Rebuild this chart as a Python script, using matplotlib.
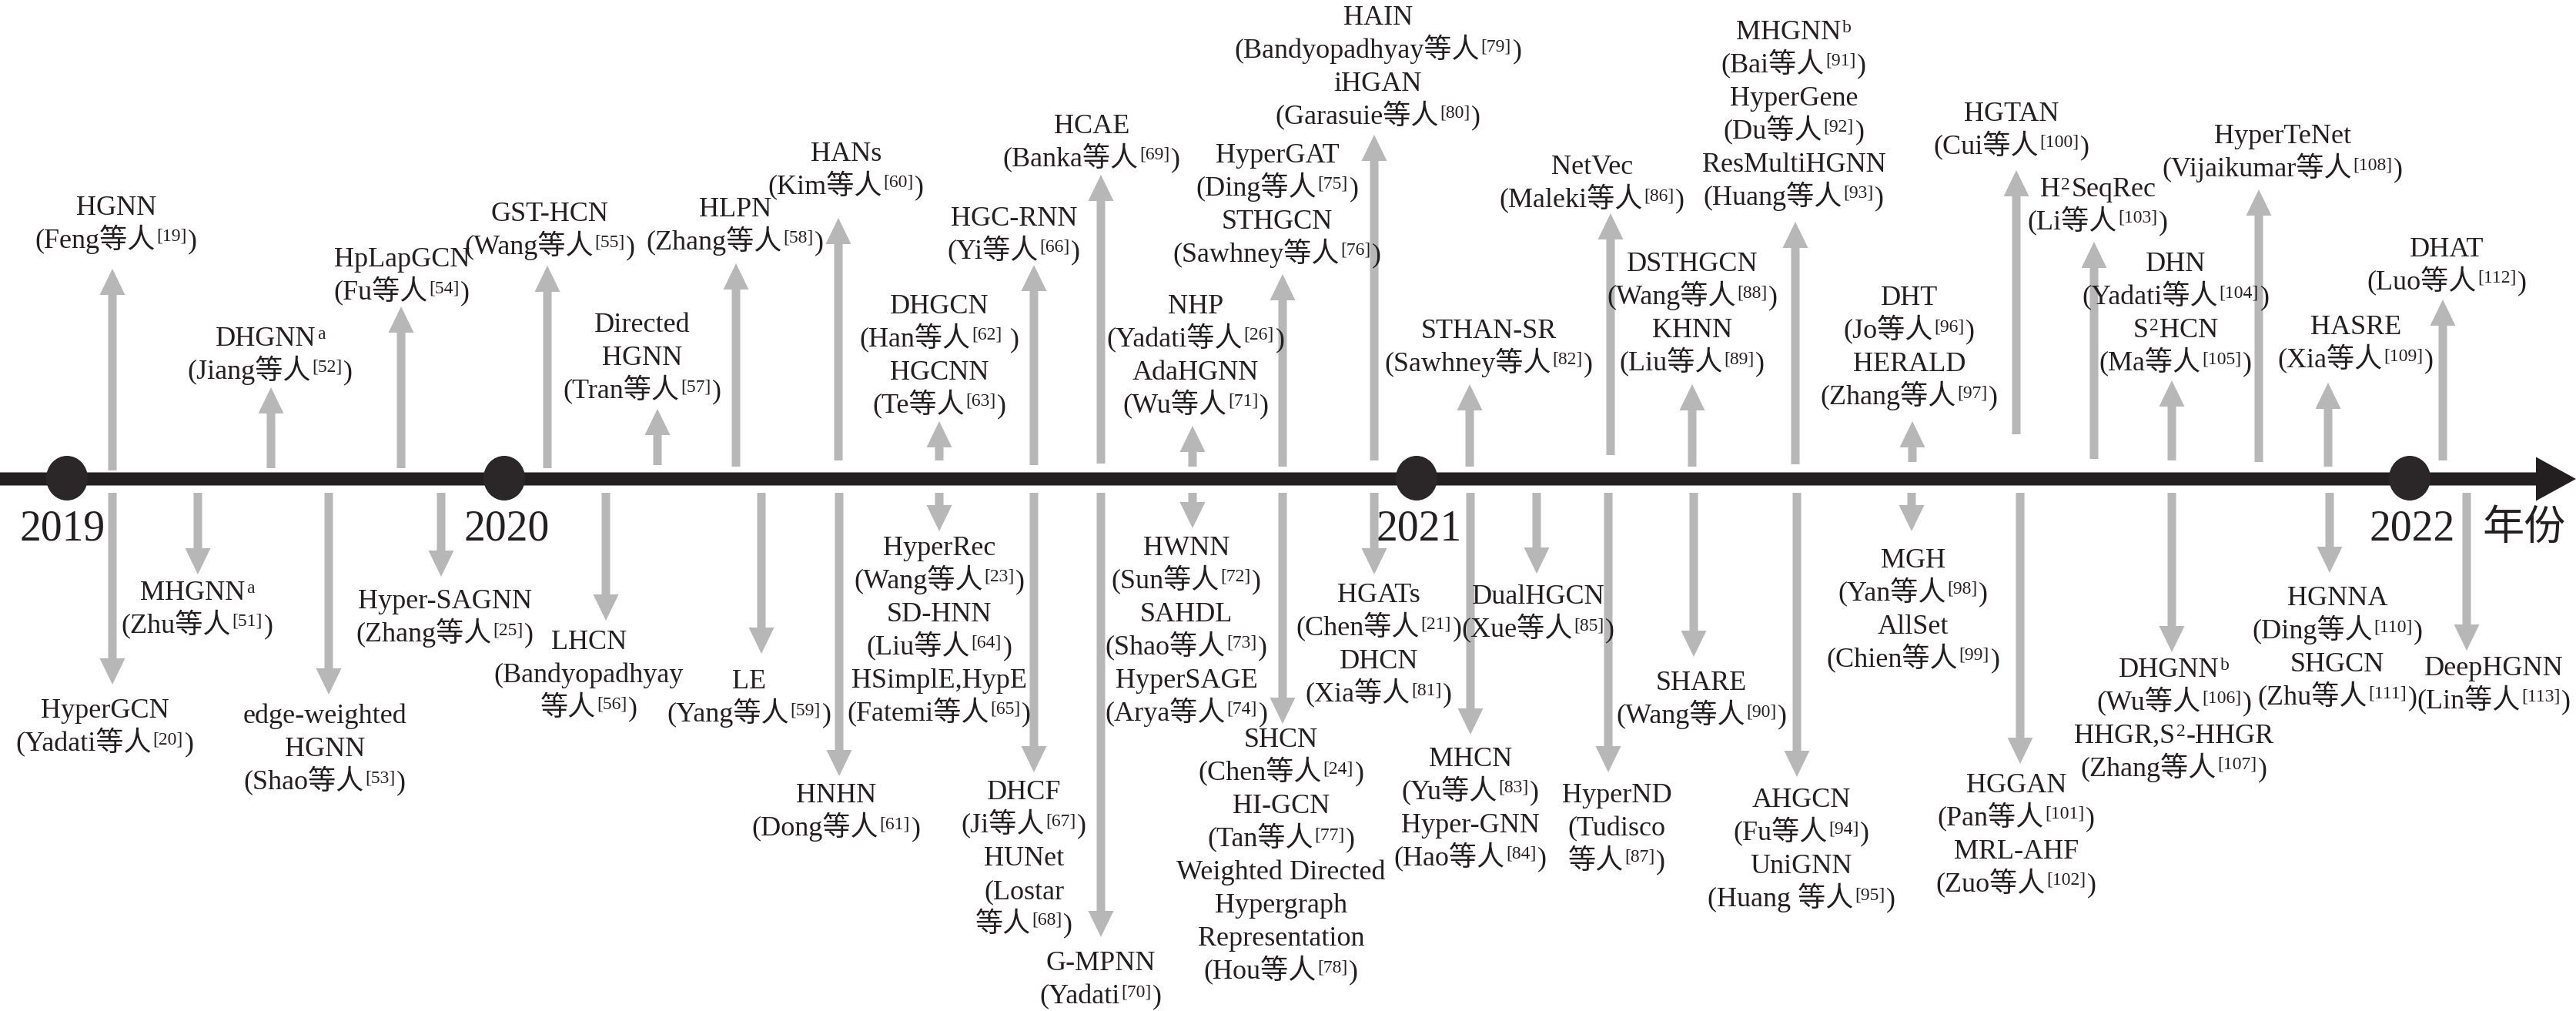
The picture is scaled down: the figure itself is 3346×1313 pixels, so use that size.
import matplotlib
matplotlib.use('Agg')
import matplotlib.pyplot as plt
from matplotlib.patches import Ellipse, FancyArrow

# ---------------- data ----------------
years = ['2019', '2020', '2021', '2022']
year_pos = [87, 655, 1840, 3130]
axis_label = '年份'

# events above the timeline
up_pos = [146, 352, 521, 711, 854, 956, 1089, 1220, 1343, 1430, 1549, 1666,
          1785, 1909, 2092, 2198, 2332, 2484, 2619, 2720, 2821, 2934, 3024, 3173]
up_tip = [349, 503, 398, 345, 531, 342, 283, 547, 344, 227, 553, 356,
          175, 499, 277, 499, 288, 547, 221, 314, 494, 246, 497, 389]
up_base = [611, 608, 608, 608, 604, 606, 598, 598, 604, 602, 606, 606,
           598, 606, 591, 606, 603, 600, 564, 596, 598, 600, 606, 598]
up_names = [
    ["HGNN", "(Feng等人^{[19]})"],
    ["DHGNN^{a}", "(Jiang等人^{[52]})"],
    ["HpLapGCN", "(Fu等人^{[54]})"],
    ["GST-HCN", "(Wang等人^{[55]})"],
    ["Directed", "HGNN", "(Tran等人^{[57]})"],
    ["HLPN", "(Zhang等人^{[58]})"],
    ["HANs", "(Kim等人^{[60]})"],
    ["DHGCN", "(Han等人^{[62]} )", "HGCNN", "(Te等人^{[63]})"],
    ["HGC-RNN", "(Yi等人^{[66]})"],
    ["HCAE", "(Banka等人^{[69]})"],
    ["NHP", "(Yadati等人^{[26]})", "AdaHGNN", "(Wu等人^{[71]})"],
    ["HyperGAT", "(Ding等人^{[75]})", "STHGCN", "(Sawhney等人^{[76]})"],
    ["HAIN", "(Bandyopadhyay等人^{[79]})", "iHGAN", "(Garasuie等人^{[80]})"],
    ["STHAN-SR", "(Sawhney等人^{[82]})"],
    ["NetVec", "(Maleki等人^{[86]})"],
    ["DSTHGCN", "(Wang等人^{[88]})", "KHNN", "(Liu等人^{[89]})"],
    ["MHGNN^{b}", "(Bai等人^{[91]})", "HyperGene", "(Du等人^{[92]})",
     "ResMultiHGNN", "(Huang等人^{[93]})"],
    ["DHT", "(Jo等人^{[96]})", "HERALD", "(Zhang等人^{[97]})"],
    ["HGTAN", "(Cui等人^{[100]})"],
    ["H^{2}SeqRec", "(Li等人^{[103]})"],
    ["DHN", "(Yadati等人^{[104]})", "S^{2}HCN", "(Ma等人^{[105]})"],
    ["HyperTeNet", "(Vijaikumar等人^{[108]})"],
    ["HASRE", "(Xia等人^{[109]})"],
    ["DHAT", "(Luo等人^{[112]})"],
]

# events below the timeline
down_pos = [146, 257, 427, 573, 787, 989, 1090, 1220, 1343, 1430, 1549, 1666,
            1785, 1910, 1996, 2089, 2200, 2334, 2483, 2624, 2821, 3026, 3204]
down_tip = [889, 746, 902, 749, 806, 849, 1008, 690, 1003, 1217, 686, 940,
            746, 954, 745, 1003, 853, 1009, 690, 992, 847, 744, 845]
down_names = [
    ["HyperGCN", "(Yadati等人^{[20]})"],
    ["MHGNN^{a}", "(Zhu等人^{[51]})"],
    ["edge-weighted", "HGNN", "(Shao等人^{[53]})"],
    ["Hyper-SAGNN", "(Zhang等人^{[25]})"],
    ["LHCN", "(Bandyopadhyay", "等人^{[56]})"],
    ["LE", "(Yang等人^{[59]})"],
    ["HNHN", "(Dong等人^{[61]})"],
    ["HyperRec", "(Wang等人^{[23]})", "SD-HNN", "(Liu等人^{[64]})",
     "HSimplE,HypE", "(Fatemi等人^{[65]})"],
    ["DHCF", "(Ji等人^{[67]})", "HUNet", "(Lostar", "等人^{[68]})"],
    ["G-MPNN", "(Yadati^{[70]})"],
    ["HWNN", "(Sun等人^{[72]})", "SAHDL", "(Shao等人^{[73]})",
     "HyperSAGE", "(Arya等人^{[74]})"],
    ["SHCN", "(Chen等人^{[24]})", "HI-GCN", "(Tan等人^{[77]})",
     "Weighted Directed", "Hypergraph", "Representation", "(Hou等人^{[78]})"],
    ["HGATs", "(Chen等人^{[21]})", "DHCN", "(Xia等人^{[81]})"],
    ["MHCN", "(Yu等人^{[83]})", "Hyper-GNN", "(Hao等人^{[84]})"],
    ["DualHGCN", "(Xue等人^{[85]})"],
    ["HyperND", "(Tudisco", "等人^{[87]})"],
    ["SHARE", "(Wang等人^{[90]})"],
    ["AHGCN", "(Fu等人^{[94]})", "UniGNN", "(Huang 等人^{[95]})"],
    ["MGH", "(Yan等人^{[98]})", "AllSet", "(Chien等人^{[99]})"],
    ["HGGAN", "(Pan等人^{[101]})", "MRL-AHF", "(Zuo等人^{[102]})"],
    ["DHGNN^{b}", "(Wu等人^{[106]})", "HHGR,S^{2}-HHGR", "(Zhang等人^{[107]})"],
    ["HGNNA", "(Ding等人^{[110]})", "SHGCN", "(Zhu等人^{[111]})"],
    ["DeepHGNN", "(Lin等人^{[113]})"],
]

# ---------------- layout (label anchors: centre x, top of capitals) ----------------
up_label_x = [151, 351, 522, 714, 834, 955, 1099, 1220, 1317, 1418, 1553, 1659,
              1790, 1934, 2068, 2198, 2330, 2480, 2613, 2725, 2826, 2965, 3060, 3178]
up_label_top = [255, 425, 322, 263, 407, 257, 185, 383, 269, 149, 383, 187,
                8, 415, 202, 328, 27, 372, 133, 231, 328, 162, 410, 309]
down_label_x = [136, 256, 422, 578, 765, 973, 1086, 1220, 1330, 1430, 1541, 1664,
                1791, 1910, 1998, 2100, 2210, 2340, 2485, 2619, 2824, 3036, 3239]
down_label_top = [908, 755, 915, 766, 819, 870, 1018, 697, 1014, 1236, 697, 946,
                  758, 971, 760, 1018, 872, 1024, 713, 1005, 855, 762, 853]

W, H = 3346, 1313
AXIS_Y = 622
DOWN_START = 640
TEXT = '#231f20'
GRAY = '#b7b7b7'
DOT = '#2b2728'
FAM = ['Liberation Serif', 'Noto Sans CJK SC']
FS = 26
SUP_FS = 17
SUP_RAISE = 9
LINE_H = 43
CAP_H = 24

fig = plt.figure(figsize=(W / 100, H / 100), dpi=100)
ax = fig.add_axes([0, 0, 1, 1])
ax.set_xlim(0, W)
ax.set_ylim(H, 0)
ax.axis('off')
renderer = fig.canvas.get_renderer()


def parse(line):
    segs, buf, i = [], '', 0
    while i < len(line):
        if line.startswith('^{', i):
            if buf:
                segs.append((buf, False))
                buf = ''
            j = line.index('}', i)
            segs.append((line[i + 2:j], True))
            i = j + 1
        else:
            buf += line[i]
            i += 1
    if buf:
        segs.append((buf, False))
    return segs


def draw_line(cx, y, line):
    objs, widths = [], []
    for txt, sup in parse(line):
        t = ax.text(0, y - (SUP_RAISE if sup else 0), txt,
                    fontsize=SUP_FS if sup else FS, family=FAM, color=TEXT,
                    ha='left', va='baseline', zorder=5)
        widths.append(t.get_window_extent(renderer).width)
        objs.append(t)
    gap = 1.5
    total = sum(widths) + gap * (len(widths) - 1)
    x = cx - total / 2
    for t, w in zip(objs, widths):
        t.set_x(x)
        x += w + gap


def draw_label(cx, top, lines):
    for k, line in enumerate(lines):
        draw_line(cx, top + CAP_H + k * LINE_H, line)


def gray_arrow(x, y0, y1):
    ax.add_patch(FancyArrow(x, y0, 0, y1 - y0, width=11, head_width=33,
                            head_length=34, length_includes_head=True,
                            facecolor=GRAY, edgecolor='none', lw=0, zorder=1))


for x, tip, base, lx, lt, names in zip(up_pos, up_tip, up_base, up_label_x,
                                         up_label_top, up_names):
    gray_arrow(x, base, tip)
    draw_label(lx, lt, names)

for x, tip, lx, lt, names in zip(down_pos, down_tip, down_label_x,
                                   down_label_top, down_names):
    gray_arrow(x, DOWN_START, tip)
    draw_label(lx, lt, names)

# timeline axis
ax.add_patch(FancyArrow(0, AXIS_Y, W, 0, width=17, head_width=57, head_length=52,
                        length_includes_head=True, facecolor=TEXT,
                        edgecolor='none', lw=0, zorder=3))
for xp, yr in zip(year_pos, years):
    ax.add_patch(Ellipse((xp, AXIS_Y - 1), 54, 58, facecolor=DOT,
                         edgecolor='none', zorder=4))
    ax.text(xp - 6 if yr == '2019' else xp + 3, 701, yr, fontsize=40, family=FAM,
            color=TEXT, ha='center', va='baseline', zorder=5)
ax.text(3279, 701, axis_label, fontsize=39, family=FAM, color=TEXT,
        ha='center', va='baseline', zorder=5)

fig.savefig('out.png', dpi=100)
